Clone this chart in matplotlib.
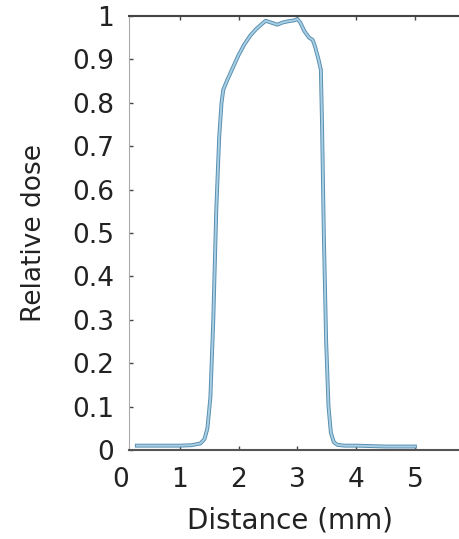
import matplotlib
matplotlib.use("Agg")
import matplotlib.pyplot as plt
import matplotlib.patheffects as pe

distance_mm = [0.27, 0.6, 1.0, 1.2, 1.35, 1.42, 1.47, 1.52, 1.57, 1.62, 1.67, 1.71, 1.74, 1.80,
               1.90, 2.00, 2.10, 2.20, 2.30, 2.40, 2.46, 2.55, 2.66, 2.75, 2.85, 2.95, 3.00,
               3.05, 3.12, 3.20, 3.26, 3.30, 3.36, 3.40, 3.42, 3.45, 3.49, 3.53, 3.57, 3.62,
               3.68, 3.80, 4.0, 4.5, 5.0]
relative_dose = [0.01, 0.01, 0.01, 0.011, 0.015, 0.025, 0.05, 0.12, 0.30, 0.55, 0.72, 0.80, 0.83, 0.85,
                 0.88, 0.91, 0.935, 0.955, 0.97, 0.982, 0.989, 0.985, 0.98, 0.985, 0.988, 0.99, 0.993,
                 0.985, 0.965, 0.950, 0.945, 0.93, 0.90, 0.876, 0.75, 0.50, 0.25, 0.10, 0.04, 0.018,
                 0.012, 0.01, 0.01, 0.008, 0.008]

x_ticks = [0, 1, 2, 3, 4, 5]
y_ticks = [0, 0.1, 0.2, 0.3, 0.4, 0.5, 0.6, 0.7, 0.8, 0.9, 1]
y_ticklabels = ["0", "0.1", "0.2", "0.3", "0.4", "0.5", "0.6", "0.7", "0.8", "0.9", "1"]

plt.rcParams['font.family'] = ['DejaVu Sans']

fig = plt.figure(figsize=(4.59, 5.39), dpi=100)
ax = fig.add_axes([121/459, 1 - 450/539, 1 - 121/459, (450 - 16)/539])

ax.plot(distance_mm, relative_dose, color="#a8cfe4", linewidth=1.4,
        path_effects=[pe.Stroke(linewidth=2.8, foreground="#5a8fb0"), pe.Normal()])

ax.set_xticks(x_ticks)
ax.set_yticks(y_ticks)
ax.set_yticklabels(y_ticklabels)
ax.set_xlim(0, 5.75)
ax.set_ylim(0, 1)

ax.tick_params(axis='both', direction='in', length=3, width=1, color="#444444",
               labelsize=19, labelcolor="#222222")
ax.tick_params(axis='x', top=True, pad=12)
ax.tick_params(axis='y', pad=11)

first_tick = ax.xaxis.get_major_ticks()[0]
first_tick.tick1line.set_visible(False)
first_tick.tick2line.set_visible(False)

ax.spines['left'].set_position(('data', 0.14))
ax.spines['right'].set_visible(False)
ax.spines['left'].set_color("#aaaaaa")
ax.spines['bottom'].set_color("#555555")
ax.spines['top'].set_color("#444444")
ax.spines['bottom'].set_linewidth(1.5)
ax.spines['top'].set_linewidth(1.5)
ax.spines['bottom'].set_bounds(0.14, 5.75)
ax.spines['top'].set_bounds(0.14, 5.75)

ax.set_xlabel("Distance (mm)", fontsize=20, color="#222222", labelpad=10)
ax.set_ylabel("Relative dose", fontsize=19, color="#222222", labelpad=18)

fig.savefig("out.png", dpi=100)
